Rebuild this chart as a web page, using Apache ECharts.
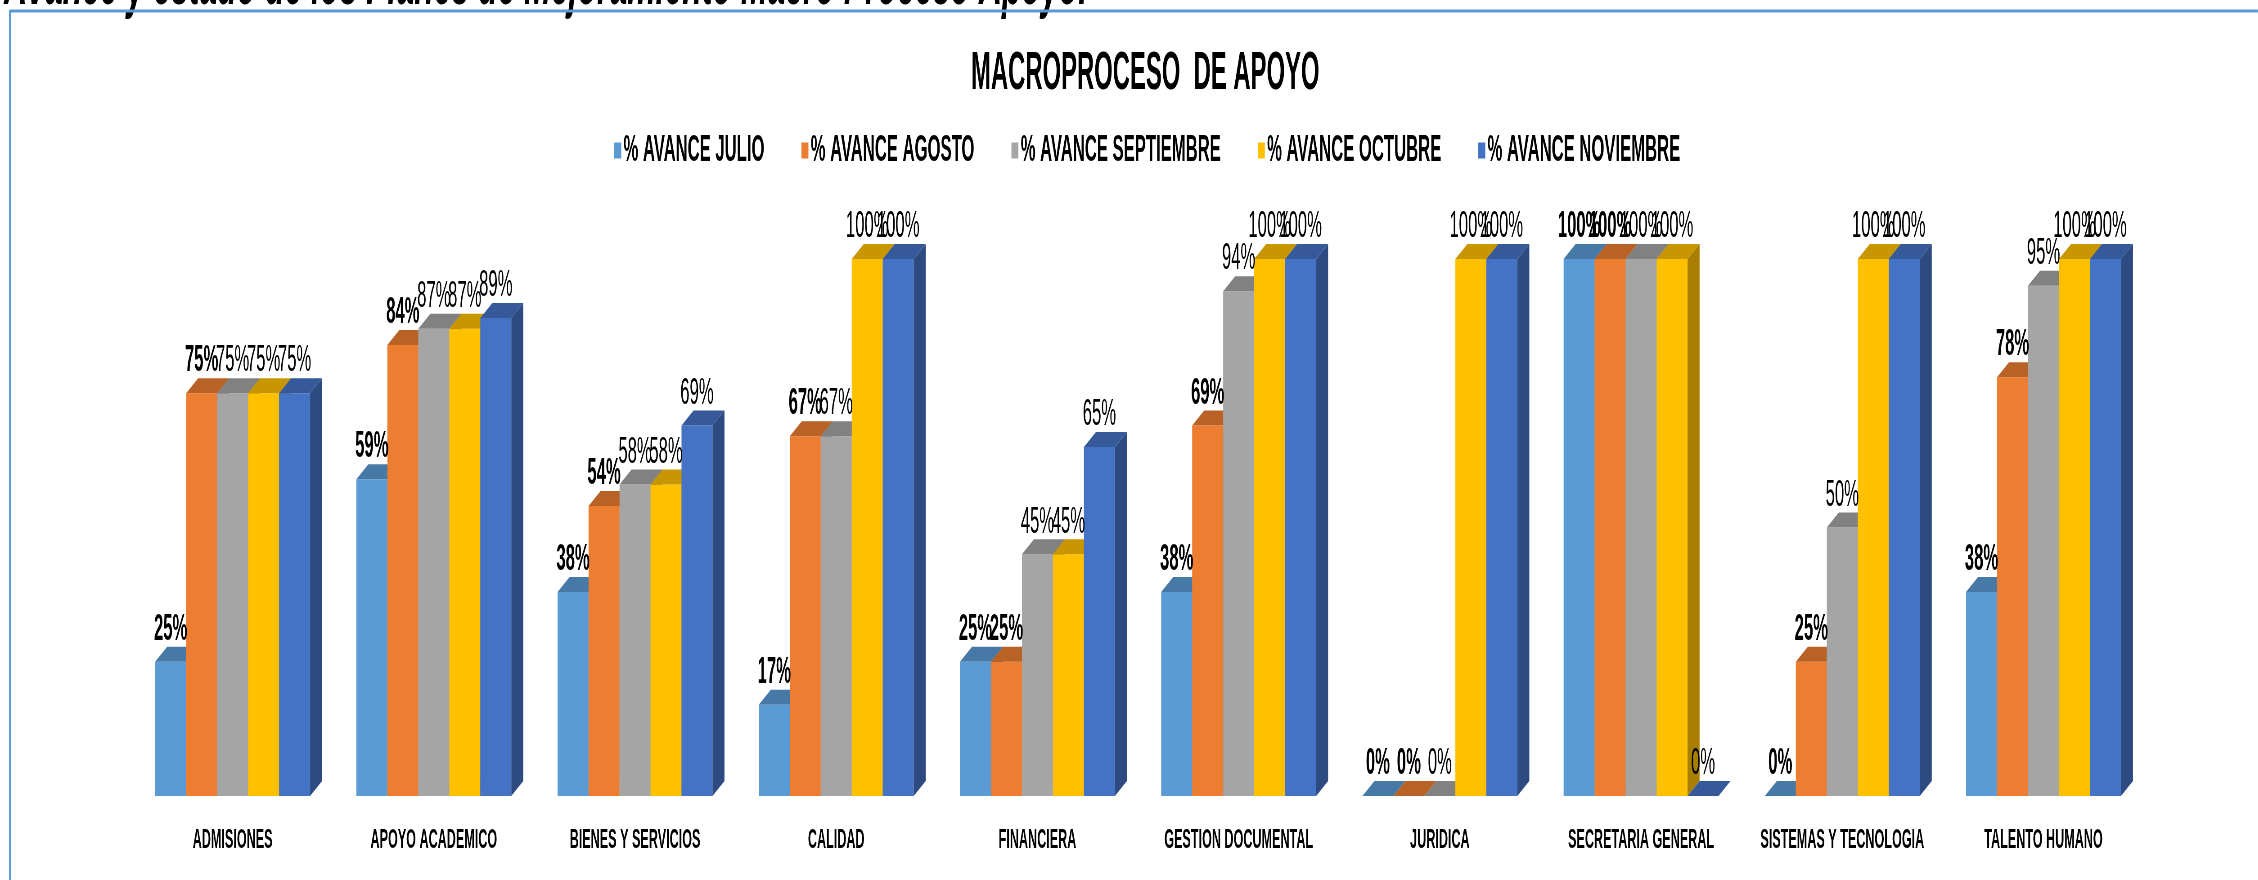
<!DOCTYPE html>
<html>
<head>
<meta charset="utf-8">
<title>Macroproceso de Apoyo</title>
<script src="https://cdn.jsdelivr.net/npm/echarts@6/dist/echarts.min.js"></script>
<style>
  html, body { margin: 0; padding: 0; overflow: hidden; background: #fff; }
  #wrap { width: 2258px; height: 880px; overflow: hidden; position: relative; }
  #chart { position: absolute; left: 0; top: 0; height: 880px; transform-origin: 0 0; }
</style>
</head>
<body>
<div id="wrap"><div id="chart"></div></div>
<script>
// the Excel original uses very condensed lettering, so the chart is laid out
// wider than the page and squeezed back horizontally
var SX = 0.45;
var W = 2258 / SX;
function px(v) { return v / SX; }

var categories = ['ADMISIONES', 'APOYO ACADEMICO', 'BIENES Y SERVICIOS', 'CALIDAD', 'FINANCIERA',
  'GESTION DOCUMENTAL', 'JURIDICA', 'SECRETARIA GENERAL', 'SISTEMAS Y TECNOLOGIA', 'TALENTO HUMANO'];
var julio      = [25, 59, 38, 17, 25, 38, 0, 100, 0, 38];
var agosto     = [75, 84, 54, 67, 25, 69, 0, 100, 25, 78];
var septiembre = [75, 87, 58, 67, 45, 94, 0, 100, 50, 95];
var octubre    = [75, 87, 58, 100, 45, 100, 100, 100, 100, 100];
var noviembre  = [75, 89, 69, 100, 65, 100, 100, 0, 100, 100];
var seriesNames = ['% AVANCE JULIO', '% AVANCE AGOSTO', '% AVANCE SEPTIEMBRE', '% AVANCE OCTUBRE', '% AVANCE NOVIEMBRE'];
var seriesData = [julio, agosto, septiembre, octubre, noviembre];

const colors = ['#5B9BD5', '#ED7D31', '#A5A5A5', '#FFC000', '#4472C4'];
var FONT = '"Liberation Sans", Arial, sans-serif';
var GROUP = 0.77;   // share of the category taken by the 5 bars
var DX = px(12);    // depth of the fake 3d boxes
var DY = 15;

function shade(hex, k) {
  var n = parseInt(hex.slice(1), 16);
  var r = Math.round(((n >> 16) & 255) * k);
  var g = Math.round(((n >> 8) & 255) * k);
  var b = Math.round((n & 255) * k);
  return 'rgb(' + r + ',' + g + ',' + b + ')';
}

function makeRender(idx) {
  var color = colors[idx];
  return function (params, api) {
    var cat = api.value(0);
    var val = api.value(1);
    var base = api.coord([cat, 0]);
    var top = api.coord([cat, val]);
    var catW = api.size([1, 0])[0];
    var bw = catW * GROUP / 5;
    var x0 = base[0] - catW * GROUP / 2 + idx * bw;
    var x1 = x0 + bw;
    var y0 = base[1];
    var y1 = top[1];
    var z = idx * 10;
    return {
      type: 'group',
      children: [
        {
          type: 'rect',
          z2: z,
          shape: { x: x0, y: y1, width: bw, height: y0 - y1 },
          style: { fill: color }
        },
        {
          type: 'polygon',
          z2: z + 1,
          shape: { points: [[x0, y1], [x0 + DX, y1 - DY], [x1 + DX, y1 - DY], [x1, y1]] },
          style: { fill: shade(color, 0.78) }
        },
        {
          type: 'polygon',
          z2: z + 1,
          shape: { points: [[x1, y1], [x1 + DX, y1 - DY], [x1 + DX, y0 - DY], [x1, y0]] },
          style: { fill: shade(color, 0.66) }
        },
        {
          type: 'text',
          z2: 100,
          style: {
            text: val + '%',
            x: (x0 + x1) / 2,
            y: y1 - 32,
            align: 'center',
            verticalAlign: 'middle',
            fill: '#000',
            fontSize: 37,
            fontWeight: idx < 2 ? 'bold' : 'normal',
            fontFamily: FONT
          }
        }
      ]
    };
  };
}

var chartDom = document.getElementById('chart');
chartDom.style.width = W + 'px';
chartDom.style.transform = 'scaleX(' + SX + ')';
var myChart = echarts.init(chartDom);
var option;

option = {
  animation: false,
  color: colors,
  title: {
    text: 'MACROPROCESO  DE APOYO',
    left: px(1143),
    textAlign: 'center',
    top: 43,
    textStyle: { fontSize: 53, fontWeight: 'bold', color: '#000', fontFamily: FONT }
  },
  legend: {
    left: px(612),
    top: 127,
    icon: 'rect',
    itemWidth: px(7),
    itemHeight: 16,
    itemGap: px(37),
    textStyle: { fontSize: 37, fontWeight: 'bold', color: '#000', fontFamily: FONT },
    data: seriesNames
  },
  graphic: [
    {
      type: 'text',
      x: px(4),
      y: 20,
      style: {
        text: 'Avance y estado de los Planes de Mejoramiento Macro Proceso Apoyo.',
        fill: '#000',
        fontSize: 71,
        fontWeight: 'bold',
        fontStyle: 'italic',
        fontFamily: FONT,
        verticalAlign: 'bottom'
      }
    },
    {
      type: 'line',
      shape: { x1: px(10), y1: 11, x2: W, y2: 11 },
      style: { stroke: '#5B9BD5', lineWidth: 3 }
    },
    {
      type: 'line',
      shape: { x1: px(10), y1: 10, x2: px(10), y2: 880 },
      style: { stroke: '#5B9BD5', lineWidth: px(2) }
    }
  ],
  grid: {
    left: px(132),
    right: px(114),
    top: 259,
    bottom: 84,
    outerBoundsMode: 'none'
  },
  xAxis: {
    type: 'category',
    data: categories,
    axisLine: { show: false },
    axisTick: { show: false },
    axisLabel: {
      interval: 0,
      margin: 30,
      fontSize: 28,
      fontWeight: 'bold',
      color: '#000',
      fontFamily: FONT
    }
  },
  yAxis: {
    type: 'value',
    min: 0,
    max: 100,
    show: false
  },
  series: seriesData.map(function (arr, idx) {
    return {
      name: seriesNames[idx],
      type: 'custom',
      clip: false,
      itemStyle: { color: colors[idx] },
      encode: { x: 0, y: 1 },
      renderItem: makeRender(idx),
      data: arr.map(function (v, i) { return [i, v]; })
    };
  })
};

option && myChart.setOption(option);
</script>
</body>
</html>
